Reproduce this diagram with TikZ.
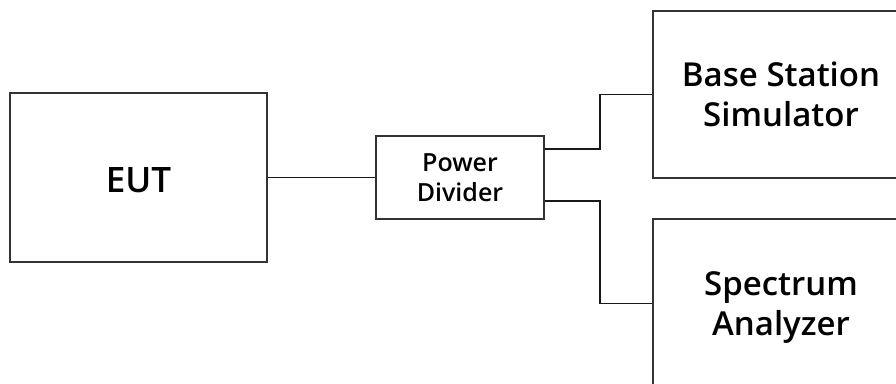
\documentclass[tikz,border=0pt]{standalone}
\usepackage{fontspec}
\setmainfont{Open Sans}[UprightFont={* Semibold},BoldFont={* Bold}]
\begin{document}
\begin{tikzpicture}[x=1pt,y=-1pt,
  box/.style={draw=black!80, line width=1.6pt, inner sep=0pt, align=center, text depth=0pt},
  wire/.style={draw=black!90, line width=1.6pt}]
\useasboundingbox (0,0) rectangle (896,383);
\clip (0,0) rectangle (896,383);
\node[box, minimum width=257pt, minimum height=169pt, text height=30pt, font=\fontsize{35}{42}\selectfont] (EUT) at (138.5,177.5) {EUT};
\node[box, minimum width=168pt, minimum height=83pt, font=\fontsize{25}{30}\selectfont] (PD) at (460,177.5) {Power\\Divider};
\node[box, minimum width=256pt, minimum height=167pt, font=\fontsize{33}{39.5}\selectfont] (BSS) at (781,94.3) {Base Station\\Simulator};
\node[box, minimum width=256pt, minimum height=169pt, font=\fontsize{33}{39.5}\selectfont] (SA) at (781,303.5) {Spectrum\\Analyzer};
\draw[wire] (EUT.east) -- (PD.west);
\draw[wire] ([yshift=28.5pt]PD.east) -- ++(55,0) |- (BSS.west);
\draw[wire] ([yshift=-23.5pt]PD.east) -- ++(55,0) |- (SA.west);
\end{tikzpicture}
\end{document}
